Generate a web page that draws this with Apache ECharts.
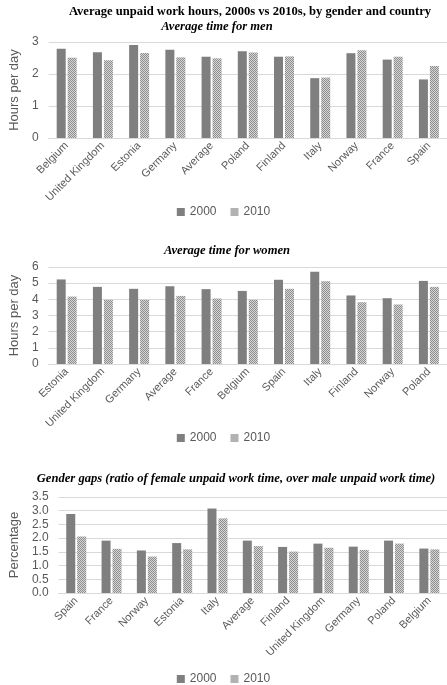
<!DOCTYPE html>
<html>
<head>
<meta charset="utf-8">
<script src="https://cdn.jsdelivr.net/npm/echarts@6/dist/echarts.min.js"></script>
<style>html,body{margin:0;padding:0;background:#fff;}#c{width:447px;height:685px;}</style>
</head>
<body>
<div id="c"></div>
<script>
// ---- data ----
const menCategories = ['Belgium','United Kingdom','Estonia','Germany','Average','Poland','Finland','Italy','Norway','France','Spain'];
const men2000 = [2.79,2.68,2.91,2.76,2.54,2.71,2.54,1.87,2.65,2.45,1.83];
const men2010 = [2.51,2.43,2.66,2.52,2.49,2.67,2.55,1.89,2.74,2.54,2.25];

const womenCategories = ['Estonia','United Kingdom','Germany','Average','France','Belgium','Spain','Italy','Finland','Norway','Poland'];
const women2000 = [5.23,4.77,4.65,4.81,4.63,4.52,5.21,5.70,4.24,4.07,5.14];
const women2010 = [4.17,3.97,3.97,4.21,4.05,3.97,4.65,5.12,3.82,3.68,4.77];

const gapCategories = ['Spain','France','Norway','Estonia','Italy','Average','Finland','United Kingdom','Germany','Poland','Belgium'];
const gap2000 = [2.88,1.91,1.55,1.82,3.08,1.91,1.68,1.80,1.69,1.91,1.62];
const gap2010 = [2.06,1.61,1.33,1.59,2.72,1.71,1.51,1.65,1.57,1.80,1.59];

const menTicks = {min:0, max:3, interval:1};
const womenTicks = {min:0, max:6, interval:1};
const gapTicks = {min:0, max:3.5, interval:0.5};

// ---- styles ----
const c2000 = '#7f7f7f';
const pat = document.createElement('canvas');
pat.width = 2; pat.height = 2;
const pctx = pat.getContext('2d');
pctx.fillStyle = '#d6d6d6'; pctx.fillRect(0,0,2,2);
pctx.fillStyle = '#8e8e8e'; pctx.fillRect(0,0,1,1); pctx.fillRect(1,1,1,1);
const c2010 = {image: pat, repeat: 'repeat'};

const txt = '#595959';
const sans = 'Liberation Sans';
const serif = 'Liberation Serif';

function xAxis(gi, cats){
  return {type:'category', gridIndex:gi, data:cats,
    axisLine:{lineStyle:{color:'#d9d9d9'}}, axisTick:{show:false},
    axisLabel:{interval:0, rotate:45, color:txt, fontFamily:sans, fontSize:11, margin:6}};
}
function yAxis(gi, t, name, fmt){
  return {type:'value', gridIndex:gi, min:t.min, max:t.max, interval:t.interval,
    name:name, nameLocation:'middle', nameRotate:90, nameGap: fmt ? 31 : 23,
    nameTextStyle:{color:txt, fontFamily:sans, fontSize:13},
    axisLine:{show:false}, axisTick:{show:false},
    splitLine:{lineStyle:{color:'#d9d9d9'}},
    axisLabel:{color:txt, fontFamily:sans, fontSize:12, margin:10,
      formatter: fmt ? (v => v.toFixed(1)) : (v => v)}};
}
function bars(gi, d1, d2){
  return [
    {name:'2000', type:'bar', xAxisIndex:gi, yAxisIndex:gi, data:d1, barWidth:9, barGap:'22%',
     itemStyle:{color:c2000}},
    {name:'2010', type:'bar', xAxisIndex:gi, yAxisIndex:gi, data:d2, barWidth:9, barGap:'22%',
     itemStyle:{color:c2010}}
  ];
}
function legend(top){
  return {top:top, left:'center', data:['2000','2010'], itemWidth:8, itemHeight:8, itemGap:14,
    icon:'rect', textStyle:{color:txt, fontFamily:sans, fontSize:12}, selectedMode:false};
}
const tStyle = {fontFamily:serif, fontSize:12.6, fontWeight:'bold', color:'#000'};
const tItal = {fontFamily:serif, fontSize:12.6, fontWeight:'bold', fontStyle:'italic', color:'#000'};

const option = {
  animation:false,
  backgroundColor:'#fff',
  title:[
    {text:'Average unpaid work hours, 2000s vs 2010s, by gender and country', left:245, textAlign:'center', top:0, textStyle:tStyle},
    {text:'Average time for men', left:212, textAlign:'center', top:15, textStyle:tItal},
    {text:'Average time for women', left:222, textAlign:'center', top:239, textStyle:tItal},
    {text:'Gender gaps (ratio of female unpaid work time, over male unpaid work time)', left:231, textAlign:'center', top:467, textStyle:tItal}
  ],
  legend:[legend(201), legend(427), legend(668)],
  grid:[
    {left:35, right:0, top:42, height:96},
    {left:35, right:0, top:267, height:97},
    {left:43, right:0, top:497, height:96}
  ],
  xAxis:[xAxis(0, menCategories), xAxis(1, womenCategories), xAxis(2, gapCategories)],
  yAxis:[yAxis(0, menTicks, 'Hours per day'), yAxis(1, womenTicks, 'Hours per day'), yAxis(2, gapTicks, 'Percentage', true)],
  series:[].concat(bars(0, men2000, men2010), bars(1, women2000, women2010), bars(2, gap2000, gap2010))
};
const chart = echarts.init(document.getElementById('c'), null, {renderer:'canvas'});
chart.setOption(option);
</script>
</body>
</html>
